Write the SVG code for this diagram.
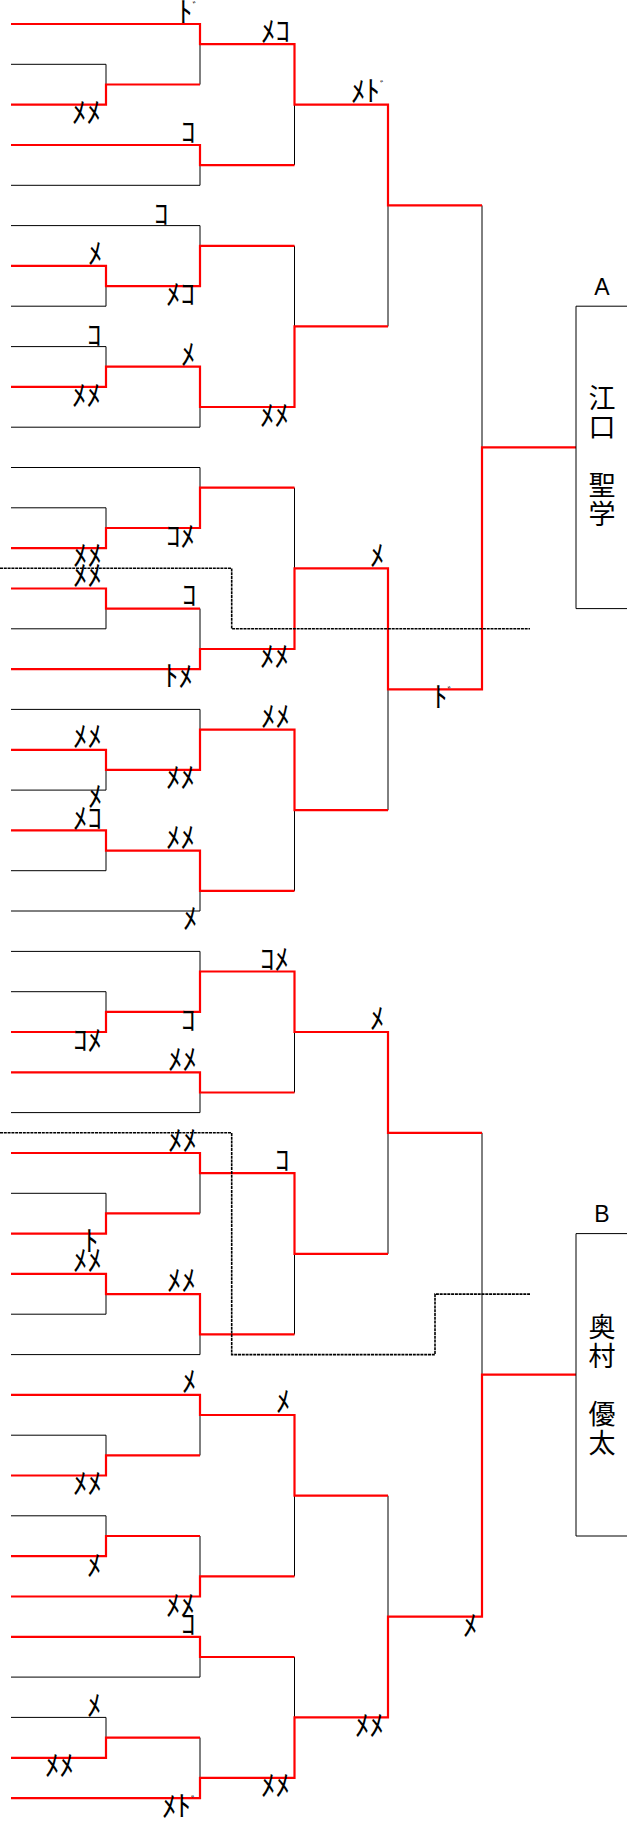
<svg xmlns="http://www.w3.org/2000/svg" width="627" height="1825" viewBox="0 0 627 1825">
<style>
.l{fill:none;stroke:#000;stroke-width:1}
.w{fill:none;stroke:#ff0000;stroke-width:2.2;stroke-linejoin:miter}
.d{fill:none;stroke:#000;stroke-width:1.6;stroke-dasharray:3 0.8}
.s{font-family:"Noto Sans CJK JP","Noto Sans CJK SC",sans-serif;font-size:29px;fill:#000}
.k{font-size:11px}
.n{font-family:"Noto Sans CJK JP","Noto Sans CJK SC",sans-serif;font-size:27px;fill:#000;writing-mode:vertical-rl;letter-spacing:2px}
.h{font-family:"Liberation Sans","DejaVu Sans",sans-serif;font-size:23px;fill:#000;text-anchor:middle}
</style>
<rect width="627" height="1825" fill="#fff"/>
<g id="connectors">
<g id="losers">
<path class="l" d="M11 64.3H106V84.5M11 185.3H200V165.1M11 225.6H200V245.8M11 306.2H106V286.1M11 346.6H106V366.7M11 427.2H200V407M11 467.5H200V487.7M11 507.8H106V528M11 628.8H106V608.6M11 709.4H200V729.6M11 790.1H106V769.9M11 870.7H106V850.6M11 911H200V890.9"/>
<path class="l" d="M11 951.4H200V971.5M11 991.7H106V1011.8M11 1112.6H200V1092.5M11 1193.3H106V1213.4M11 1314.2H106V1294.1M11 1354.6H200V1334.4M11 1435.2H106V1455.4M11 1515.8H106V1536M11 1677.1H200V1657M11 1717.4H106V1737.6"/>
<path class="l" d="M200 84.5V44.2M294.5 165.1V104.6M294.5 245.8V326.4M388 326.4V205.4M294.5 487.7V568.3M200 608.6V649M388 810.2V689.3M294.5 890.9V810.2M482 205.4V447.4"/>
<path class="l" d="M482 1132.8V1374.7M294.5 1092.5V1032M388 1253.8V1132.8M200 1213.4V1173.1M294.5 1334.4V1253.8M388 1495.7V1616.6M200 1455.4V1415M200 1536V1576.3M294.5 1576.3V1495.7M294.5 1657V1717.4M200 1737.6V1777.9"/>
</g>
<g id="winners">
<path class="w" d="M11 24H200V44.2H294.5V104.6H388V205.4H482"/>
<path class="w" d="M11 104.6H106V84.5H200"/>
<path class="w" d="M11 145H200V165.1H294.5"/>
<path class="w" d="M11 265.9H106V286.1H200V245.8H294.5"/>
<path class="w" d="M11 386.9H106V366.7H200V407H294.5V326.4H388"/>
<path class="w" d="M11 548.2H106V528H200V487.7H294.5"/>
<path class="w" d="M11 588.5H106V608.6H200"/>
<path class="w" d="M11 669.1H200V649H294.5V568.3H388V689.3H482V447.4H576"/>
<path class="w" d="M11 749.8H106V769.9H200V729.6H294.5V810.2H388"/>
<path class="w" d="M11 830.4H106V850.6H200V890.9H294.5"/>
<path class="w" d="M11 1032H106V1011.8H200V971.5H294.5V1032H388V1132.8H482"/>
<path class="w" d="M11 1072.3H200V1092.5H294.5"/>
<path class="w" d="M11 1153H200V1173.1H294.5V1253.8H388"/>
<path class="w" d="M11 1233.6H106V1213.4H200"/>
<path class="w" d="M11 1273.9H106V1294.1H200V1334.4H294.5"/>
<path class="w" d="M11 1394.9H200V1415H294.5V1495.7H388"/>
<path class="w" d="M11 1475.5H106V1455.4H200"/>
<path class="w" d="M11 1556.2H106V1536H200"/>
<path class="w" d="M11 1596.5H200V1576.3H294.5"/>
<path class="w" d="M11 1636.8H200V1657H294.5"/>
<path class="w" d="M11 1757.8H106V1737.6H200"/>
<path class="w" d="M11 1798.1H200V1777.9H294.5V1717.4H388V1616.6H482V1374.7H576"/>
</g>
<g id="dotted">
<path class="d" d="M0 568.3H231.7V628.8H530"/>
<path class="d" d="M0 1132.8H231.7V1354.6H435V1294.1H530"/>
</g>
</g>
<g id="scores" class="s">
<text x="178" y="23">ﾄ<tspan class="k" dy="-12">ﾞ</tspan></text>
<text x="261" y="42">ﾒｺ</text>
<text x="351" y="102">ﾒﾄ<tspan class="k" dy="-12">ﾞ</tspan></text>
<text x="72" y="123">ﾒﾒ</text>
<text x="181" y="143">ｺ</text>
<text x="154" y="225">ｺ</text>
<text x="88" y="264">ﾒ</text>
<text x="166" y="305">ﾒｺ</text>
<text x="87" y="346">ｺ</text>
<text x="181" y="365">ﾒ</text>
<text x="72" y="406">ﾒﾒ</text>
<text x="260" y="426">ﾒﾒ</text>
<text x="166" y="547">ｺﾒ</text>
<text><tspan x="73" y="566">ﾒﾒ</tspan><tspan x="73" y="586">ﾒﾒ</tspan></text>
<text x="370" y="566">ﾒ</text>
<text x="182" y="606">ｺ</text>
<text x="260" y="667">ﾒﾒ</text>
<text x="164" y="687">ﾄﾒ</text>
<text x="433" y="708">ﾄ<tspan class="k" dy="-12">ﾞ</tspan></text>
<text x="261" y="727">ﾒﾒ</text>
<text x="73" y="747">ﾒﾒ</text>
<text x="166" y="788">ﾒﾒ</text>
<text><tspan x="88" y="807">ﾒ</tspan><tspan x="73" y="829">ﾒｺ</tspan></text>
<text x="166" y="848">ﾒﾒ</text>
<text x="183" y="929">ﾒ</text>
<text x="260" y="970">ｺﾒ</text>
<text x="181" y="1031">ｺ</text>
<text x="73" y="1051">ｺﾒ</text>
<text x="370" y="1029">ﾒ</text>
<text x="168" y="1070">ﾒﾒ</text>
<text x="168" y="1151">ﾒﾒ</text>
<text x="275" y="1171">ｺ</text>
<text><tspan x="84" y="1252">ﾄ</tspan><tspan x="73" y="1271">ﾒﾒ</tspan></text>
<text x="167" y="1291">ﾒﾒ</text>
<text x="182" y="1392">ﾒ</text>
<text x="276" y="1412">ﾒ</text>
<text x="73" y="1494">ﾒﾒ</text>
<text x="87" y="1576">ﾒ</text>
<text><tspan x="166" y="1616">ﾒﾒ</tspan><tspan x="181" y="1635">ｺ</tspan></text>
<text x="463" y="1636">ﾒ</text>
<text x="87" y="1716">ﾒ</text>
<text x="355" y="1736">ﾒﾒ</text>
<text x="45" y="1776">ﾒﾒ</text>
<text x="261" y="1796">ﾒﾒ</text>
<text x="162" y="1817">ﾒﾄ<tspan class="k" dy="-12">ﾞ</tspan></text>
</g>
<g id="node-A">
<text class="h" x="602" y="295">A</text>
<path class="l" d="M640 306.2H576V608.6H640"/>
<text class="n" x="602" y="384">江口　聖学</text>
</g>
<g id="node-B">
<text class="h" x="602" y="1222">B</text>
<path class="l" d="M640 1233.6H576V1536H640"/>
<text class="n" x="602" y="1313">奥村　優太</text>
</g>
</svg>
